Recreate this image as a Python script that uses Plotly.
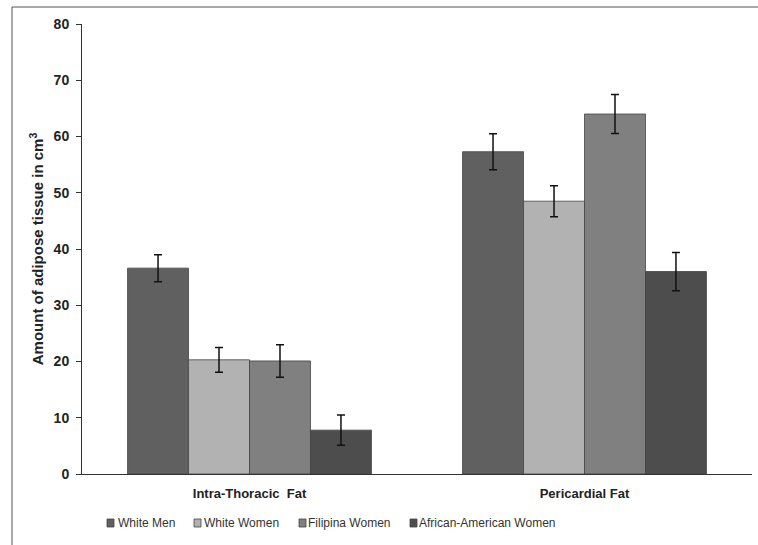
import plotly.graph_objects as go

categories = ["Intra-Thoracic  Fat", "Pericardial Fat"]
series_names = ["White Men", "White Women", "Filipina Women", "African-American Women"]
values = {
    "White Men": [36.6, 57.3],
    "White Women": [20.3, 48.5],
    "Filipina Women": [20.1, 64.0],
    "African-American Women": [7.8, 36.0],
}
errors = {
    "White Men": [2.4, 3.2],
    "White Women": [2.2, 2.75],
    "Filipina Women": [2.9, 3.45],
    "African-American Women": [2.7, 3.4],
}
colors = {
    "White Men": "#606060",
    "White Women": "#b2b2b2",
    "Filipina Women": "#808080",
    "African-American Women": "#4d4d4d",
}
y_ticks = [0, 10, 20, 30, 40, 50, 60, 70, 80]

FONT = "Liberation Sans, Arial, sans-serif"

# plot area geometry (pixels) used to place legend & frame in paper coords
L, R, T, B = 82, 752, 24, 474
def px_x(p):
    return (p - L) / (R - L)
def px_y(p):
    return (B - p) / (B - T)

fig = go.Figure()
for name in series_names:
    fig.add_trace(go.Bar(
        name=name, x=categories, y=values[name],
        marker=dict(color=colors[name], line=dict(color="#444444", width=0.8)),
        error_y=dict(type="data", array=errors[name], color="#111111", thickness=1.5, width=4),
        showlegend=False,
    ))

fig.update_layout(
    width=758, height=545,
    margin=dict(l=L, r=758 - R, t=T, b=545 - B),
    paper_bgcolor="white", plot_bgcolor="white",
    barmode="group", bargap=0.272, bargroupgap=0,
    font=dict(family=FONT, color="#222222"),
    showlegend=False,
    xaxis=dict(showline=True, linecolor="#333333", linewidth=1, ticks="",
               tickfont=dict(size=13, color="#222222", family=FONT, weight="bold"),
               ticklabelstandoff=7,
               showgrid=False, zeroline=False, range=[-0.5, 1.5]),
    yaxis=dict(range=[0, 80], tickvals=y_ticks, showline=True, linecolor="#333333", linewidth=1,
               ticks="outside", ticklen=5, tickcolor="#333333", showgrid=False, zeroline=False,
               ticklabelstandoff=4,
               tickfont=dict(size=14, color="#222222", family=FONT, weight="bold"),
               title=dict(text="Amount of adipose tissue in cm<sup>3</sup>",
                         font=dict(size=15, color="#222222", family=FONT, weight="bold"),
                         standoff=6)),
)

# outer frame
fig.add_shape(type="rect", xref="paper", yref="paper",
              x0=px_x(12), x1=px_x(770), y0=px_y(600), y1=px_y(7),
              line=dict(color="#555555", width=1), fillcolor="rgba(0,0,0,0)", layer="below")

# legend (compact, like the original)
legend_sq_x = [107, 194, 299, 410]
legend_text_x = [116, 202, 306, 417]
legend_y = 523
for name, sx, tx in zip(series_names, legend_sq_x, legend_text_x):
    fig.add_shape(type="rect", xref="paper", yref="paper",
                  x0=px_x(sx), x1=px_x(sx + 7), y0=px_y(legend_y + 4), y1=px_y(legend_y - 4),
                  line=dict(color="#444444", width=0.8), fillcolor=colors[name])
    fig.add_annotation(xref="paper", yref="paper", x=px_x(tx), y=px_y(legend_y),
                       xanchor="left", yanchor="middle", showarrow=False,
                       text=name, font=dict(size=12, color="#333333", family=FONT))

fig.write_html("out.html", config={"displayModeBar": False},
               post_script="document.body.style.margin='0';document.body.style.overflow='hidden';")
